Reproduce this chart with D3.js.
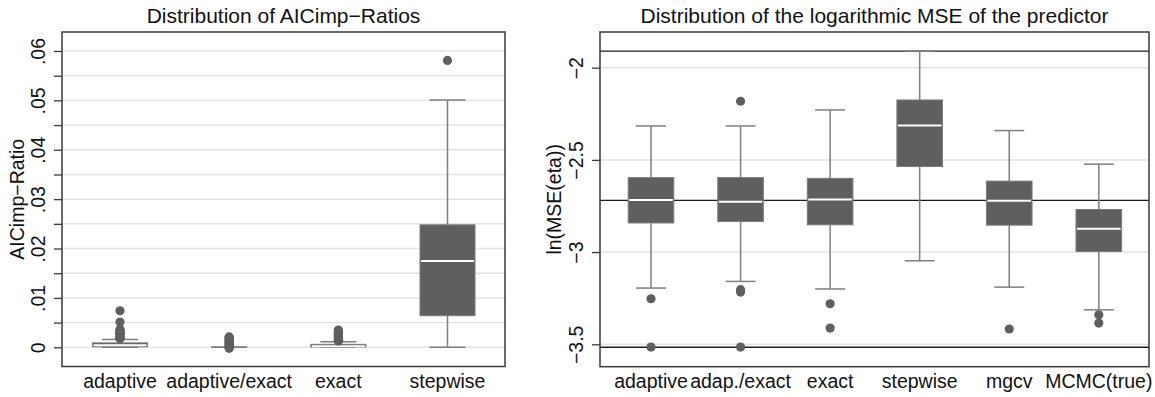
<!DOCTYPE html>
<html>
<head>
<meta charset="utf-8">
<script src="https://cdn.jsdelivr.net/npm/d3@7"></script>
<style>
  html, body { margin: 0; padding: 0; background: #fff; }
  svg { display: block; font-family: "Liberation Sans", Arial, Helvetica, sans-serif; }
</style>
</head>
<body>
<svg id="chart" width="1155" height="397"></svg>
<script>
// ---- Panel 1: AICimp ratios ----
const ratioCategories = ["adaptive", "adaptive/exact", "exact", "stepwise"];
const ratioLow    = [0, 0, 0, 0];
const ratioQ1     = [0.0001, 0, 0.00005, 0.0064];
const ratioMedian = [0.0004, 0, 0.0002, 0.0175];
const ratioQ3     = [0.0009, 0, 0.0006, 0.0248];
const ratioHigh   = [0.0016, 0, 0.0011, 0.0501];
const ratioOutliers = [
  [0.0074, 0.0051, 0.0036, 0.0034, 0.0032, 0.0030, 0.0028, 0.0026, 0.0024, 0.0022, 0.0020, 0.0019, 0.0018],
  [-0.0002, 0.0000, 0.0002, 0.0004, 0.0006, 0.0008, 0.0010, 0.0012, 0.0014, 0.0016, 0.0018, 0.0020, 0.0021],
  [0.0035, 0.0033, 0.0031, 0.0029, 0.0027, 0.0025, 0.0023, 0.0021, 0.0019, 0.0017, 0.0015, 0.0013],
  [0.0581]
];
const ratioTickValues = [0, 0.01, 0.02, 0.03, 0.04, 0.05, 0.06];
const ratioTickLabels = ["0", ".01", ".02", ".03", ".04", ".05", ".06"];
const ratioMinorTicks = [0.005, 0.015, 0.025, 0.035, 0.045, 0.055];

// ---- Panel 2: logarithmic MSE of the predictor ----
const mseCategories = ["adaptive", "adap./exact", "exact", "stepwise", "mgcv", "MCMC(true)"];
const mseLow    = [-3.195, -3.159, -3.200, -3.047, -3.190, -3.313];
const mseQ1     = [-2.842, -2.834, -2.852, -2.536, -2.854, -2.997];
const mseMedian = [-2.717, -2.727, -2.715, -2.314, -2.722, -2.874];
const mseQ3     = [-2.596, -2.596, -2.600, -2.175, -2.615, -2.769];
const mseHigh   = [-2.316, -2.316, -2.229, -1.910, -2.341, -2.523];
const mseOutliers = [
  [-3.253, -3.515],
  [-2.182, -3.204, -3.217, -3.515],
  [-3.280, -3.412],
  [],
  [-3.417],
  [-3.340, -3.385]
];
const mseTickValues = [-2, -2.5, -3, -3.5];
const mseTickLabels = ["\u22122", "\u22122.5", "\u22123", "\u22123.5"];
const mseReferenceLines = [-1.910, -2.720, -3.516];

const BOX_FILL = "#5f5f5f";
const BOX_EDGE = "#7c7c7c";
const WHISKER = "#7f7f7f";
const GRID = "#e4e4e4";
const FRAME = "#3a3a3a";
const TEXT = "#111";
const LABEL_SIZE = 19.5;
const TITLE_SIZE = 21;

const svg = d3.select("#chart");

function drawPanel(cfg) {
  const g = svg.append("g");
  const f = cfg.frame;
  const y = d3.scaleLinear().domain(cfg.yDomain).range(cfg.yRange);
  const x = d3.scalePoint().domain(cfg.categories).range(cfg.xRange);

  // grid
  g.append("g").selectAll("line").data(cfg.gridValues).join("line")
    .attr("x1", f.left).attr("x2", f.right)
    .attr("y1", d => y(d)).attr("y2", d => y(d))
    .attr("stroke", GRID).attr("stroke-width", 1.5);

  // reference lines
  g.append("g").selectAll("line").data(cfg.refLines || []).join("line")
    .attr("x1", f.left).attr("x2", f.right)
    .attr("y1", d => y(d)).attr("y2", d => y(d))
    .attr("stroke", "#1e1e1e").attr("stroke-width", 1.3);

  // y axis ticks and labels
  const axis = d3.axisLeft(y)
    .tickValues(cfg.tickValues.concat(cfg.minorTicks || []))
    .tickSize(8)
    .tickFormat(d => {
      const i = cfg.tickValues.indexOf(d);
      return i >= 0 ? cfg.tickLabels[i] : "";
    });
  const ax = g.append("g").attr("transform", `translate(${f.left},0)`).call(axis);
  ax.select(".domain").remove();
  ax.selectAll(".tick line").attr("stroke", FRAME).attr("stroke-width", 1.3);
  ax.selectAll(".tick text")
    .attr("x", null).attr("dy", null)
    .attr("transform", `translate(${cfg.tickLabelX - f.left},0) rotate(-90)`)
    .attr("text-anchor", "middle")
    .attr("font-size", LABEL_SIZE).attr("fill", TEXT)
    .attr("font-family", "Liberation Sans, Arial, sans-serif");

  const data = cfg.categories.map((c, i) => ({
    c, lo: cfg.low[i], q1: cfg.q1[i], med: cfg.median[i], q3: cfg.q3[i], hi: cfg.high[i], out: cfg.outliers[i]
  }));
  const bw = cfg.boxWidth, cw = cfg.capWidth;
  const boxes = g.append("g").selectAll("g").data(data).join("g");

  // whiskers
  boxes.append("line")
    .attr("x1", d => x(d.c)).attr("x2", d => x(d.c))
    .attr("y1", d => y(d.hi)).attr("y2", d => y(d.q3))
    .attr("stroke", WHISKER).attr("stroke-width", 1.5);
  boxes.append("line")
    .attr("x1", d => x(d.c)).attr("x2", d => x(d.c))
    .attr("y1", d => y(d.q1)).attr("y2", d => y(d.lo))
    .attr("stroke", WHISKER).attr("stroke-width", 1.5);
  boxes.append("line")
    .attr("x1", d => x(d.c) - cw / 2).attr("x2", d => x(d.c) + cw / 2)
    .attr("y1", d => y(d.hi)).attr("y2", d => y(d.hi))
    .attr("stroke", WHISKER).attr("stroke-width", 1.5);
  boxes.append("line")
    .attr("x1", d => x(d.c) - cw / 2).attr("x2", d => x(d.c) + cw / 2)
    .attr("y1", d => y(d.lo)).attr("y2", d => y(d.lo))
    .attr("stroke", WHISKER).attr("stroke-width", 1.5);

  // boxes
  boxes.append("rect")
    .attr("x", d => x(d.c) - bw / 2).attr("width", bw)
    .attr("y", d => y(d.q3)).attr("height", d => Math.max(0, y(d.q1) - y(d.q3)))
    .attr("fill", BOX_FILL).attr("stroke", BOX_EDGE).attr("stroke-width", 1);
  // median
  boxes.append("line")
    .attr("x1", d => x(d.c) - bw / 2 + 1).attr("x2", d => x(d.c) + bw / 2 - 1)
    .attr("y1", d => y(d.med)).attr("y2", d => y(d.med))
    .attr("stroke", "#fff").attr("stroke-width", 2)
    .attr("opacity", d => d.q3 > d.q1 ? 1 : 0);

  // outliers
  boxes.selectAll("circle").data(d => d.out.map(v => ({ c: d.c, v }))).join("circle")
    .attr("cx", d => x(d.c)).attr("cy", d => y(d.v)).attr("r", 4.6)
    .attr("fill", BOX_FILL);

  // frame
  g.append("rect")
    .attr("x", f.left).attr("y", f.top)
    .attr("width", f.right - f.left).attr("height", f.bottom - f.top)
    .attr("fill", "none").attr("stroke", FRAME).attr("stroke-width", 1.5);

  // category labels
  g.append("g").selectAll("text").data(cfg.categories).join("text")
    .attr("x", d => x(d)).attr("y", cfg.catLabelY)
    .attr("text-anchor", "middle").attr("font-size", LABEL_SIZE).attr("fill", TEXT)
    .text(d => d);

  // axis title
  g.append("text")
    .attr("transform", `translate(${cfg.axisTitleX},${(f.top + f.bottom) / 2}) rotate(-90)`)
    .attr("text-anchor", "middle").attr("font-size", LABEL_SIZE).attr("fill", TEXT)
    .text(cfg.axisTitle);

  // panel title
  g.append("text")
    .attr("x", (f.left + f.right) / 2).attr("y", cfg.titleY)
    .attr("text-anchor", "middle").attr("font-size", TITLE_SIZE).attr("fill", TEXT)
    .text(cfg.title);
}

drawPanel({
  frame: { left: 62, right: 505, top: 32, bottom: 366.5 },
  yDomain: [0, 0.06], yRange: [347.3, 51],
  categories: ratioCategories, xRange: [120, 447.5],
  low: ratioLow, q1: ratioQ1, median: ratioMedian, q3: ratioQ3, high: ratioHigh, outliers: ratioOutliers,
  tickValues: ratioTickValues, tickLabels: ratioTickLabels, minorTicks: ratioMinorTicks,
  gridValues: ratioTickValues.concat(ratioMinorTicks),
  boxWidth: 55, capWidth: 36,
  tickLabelX: 45, axisTitleX: 24, catLabelY: 388, titleY: 23,
  axisTitle: "AICimp\u2212Ratio",
  title: "Distribution of AICimp\u2212Ratios"
});

drawPanel({
  frame: { left: 600, right: 1149, top: 32, bottom: 366.7 },
  yDomain: [-2, -3.5], yRange: [67.7, 344.3],
  categories: mseCategories, xRange: [651, 1098.8],
  low: mseLow, q1: mseQ1, median: mseMedian, q3: mseQ3, high: mseHigh, outliers: mseOutliers,
  tickValues: mseTickValues, tickLabels: mseTickLabels, minorTicks: [],
  gridValues: mseTickValues,
  refLines: mseReferenceLines,
  boxWidth: 45.6, capWidth: 30,
  tickLabelX: 583, axisTitleX: 561, catLabelY: 388, titleY: 23,
  axisTitle: "ln(MSE(eta))",
  title: "Distribution of the logarithmic MSE of the predictor"
});
</script>
</body>
</html>
